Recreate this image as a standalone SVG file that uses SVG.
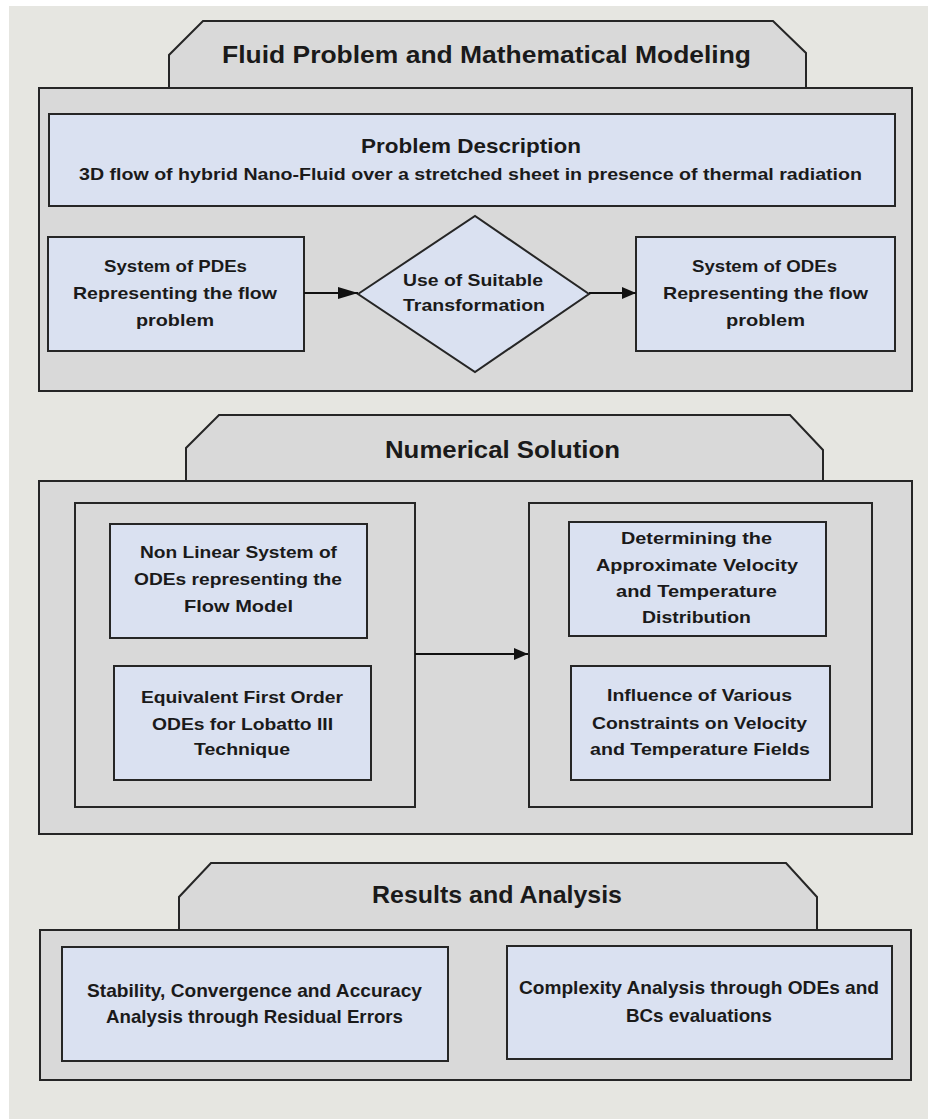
<svg xmlns="http://www.w3.org/2000/svg" width="928" height="1119" viewBox="0 0 928 1119">
<style>
  .bg{fill:#e6e6e1;}
  .panel{fill:#d9d9d9;stroke:#262626;stroke-width:2;}
  .node{fill:#dae1f1;stroke:#262626;stroke-width:2;}
  .t{font-family:"Liberation Sans",Arial,sans-serif;font-weight:bold;fill:#1a1a1a;text-anchor:middle;}
  .h1{font-size:24px;}
  .h2{font-size:21px;}
  .n{font-size:17px;}
  .n3{font-size:19px;}
  .conn{stroke:#111;stroke-width:2;fill:none;}
</style>
<defs>
  <marker id="ahL" markerUnits="userSpaceOnUse" markerWidth="20" markerHeight="12" refX="20" refY="6" orient="auto">
    <path d="M0,0 L20,6 L0,12 z" fill="#111"/>
  </marker>
  <marker id="ah" markerUnits="userSpaceOnUse" markerWidth="14" markerHeight="12" refX="14" refY="6" orient="auto">
    <path d="M0,0 L14,6 L0,12 z" fill="#111"/>
  </marker>
</defs>

<rect class="bg" x="9" y="6" width="919" height="1113"/>

<!-- Section 1 -->
<g id="section1">
  <path class="panel" d="M169,88 L169,55 L203,21 L773,21 L806,53 L806,88"/>
  <text class="t h1" x="486.5" y="63" textLength="529" lengthAdjust="spacingAndGlyphs">Fluid Problem and Mathematical Modeling</text>
  <rect class="panel" x="39" y="88" width="873" height="303"/>
</g>
<g id="problem-description">
  <rect class="node" x="49" y="114" width="846" height="92"/>
  <text class="t h2" x="471" y="153" textLength="220" lengthAdjust="spacingAndGlyphs">Problem Description</text>
  <text class="t n" x="470.5" y="180" textLength="783" lengthAdjust="spacingAndGlyphs">3D flow of hybrid Nano-Fluid over a stretched sheet in presence of thermal radiation</text>
</g>
<g id="pdes">
  <rect class="node" x="48" y="237" width="256" height="114"/>
  <text class="t n" x="175.5" y="272" textLength="143" lengthAdjust="spacingAndGlyphs">System of PDEs</text>
  <text class="t n" x="175" y="299" textLength="204" lengthAdjust="spacingAndGlyphs">Representing the flow</text>
  <text class="t n" x="175" y="326" textLength="78" lengthAdjust="spacingAndGlyphs">problem</text>
</g>
<g id="transformation">
  <path class="node" d="M358,294 L475,216 L589,294 L475,372 Z"/>
  <text class="t n" x="473" y="286" textLength="140" lengthAdjust="spacingAndGlyphs">Use of Suitable</text>
  <text class="t n" x="474" y="311" textLength="142" lengthAdjust="spacingAndGlyphs">Transformation</text>
</g>
<g id="odes">
  <rect class="node" x="636" y="237" width="259" height="114"/>
  <text class="t n" x="764.5" y="272" textLength="145" lengthAdjust="spacingAndGlyphs">System of ODEs</text>
  <text class="t n" x="765.5" y="299" textLength="205" lengthAdjust="spacingAndGlyphs">Representing the flow</text>
  <text class="t n" x="765.5" y="326" textLength="79" lengthAdjust="spacingAndGlyphs">problem</text>
</g>

<!-- Section 2 -->
<g id="section2">
  <path class="panel" d="M186,481 L186,448 L219,415 L790,415 L823,450 L823,481"/>
  <text class="t h1" x="502.5" y="458" textLength="235" lengthAdjust="spacingAndGlyphs">Numerical Solution</text>
  <rect class="panel" x="39" y="481" width="873" height="353"/>
  <rect class="panel" x="75" y="503" width="340" height="304"/>
  <rect class="panel" x="529" y="503" width="343" height="304"/>
</g>
<g id="nonlinear">
  <rect class="node" x="110" y="524" width="257" height="114"/>
  <text class="t n" x="238.5" y="558" textLength="197" lengthAdjust="spacingAndGlyphs">Non Linear System of</text>
  <text class="t n" x="238" y="585" textLength="208" lengthAdjust="spacingAndGlyphs">ODEs representing the</text>
  <text class="t n" x="238.5" y="612" textLength="109" lengthAdjust="spacingAndGlyphs">Flow Model</text>
</g>
<g id="first-order">
  <rect class="node" x="114" y="666" width="257" height="114"/>
  <text class="t n" x="242" y="703" textLength="202" lengthAdjust="spacingAndGlyphs">Equivalent First Order</text>
  <text class="t n" x="242.5" y="730" textLength="181" lengthAdjust="spacingAndGlyphs">ODEs for Lobatto III</text>
  <text class="t n" x="242" y="755" textLength="96" lengthAdjust="spacingAndGlyphs">Technique</text>
</g>
<g id="determining">
  <rect class="node" x="569" y="522" width="257" height="114"/>
  <text class="t n" x="696.5" y="544" textLength="151" lengthAdjust="spacingAndGlyphs">Determining the</text>
  <text class="t n" x="697" y="571" textLength="202" lengthAdjust="spacingAndGlyphs">Approximate Velocity</text>
  <text class="t n" x="696.5" y="597" textLength="161" lengthAdjust="spacingAndGlyphs">and Temperature</text>
  <text class="t n" x="696.5" y="623" textLength="109" lengthAdjust="spacingAndGlyphs">Distribution</text>
</g>
<g id="influence">
  <rect class="node" x="571" y="666" width="259" height="114"/>
  <text class="t n" x="699.5" y="701" textLength="185" lengthAdjust="spacingAndGlyphs">Influence of Various</text>
  <text class="t n" x="699.5" y="729" textLength="215" lengthAdjust="spacingAndGlyphs">Constraints on Velocity</text>
  <text class="t n" x="700" y="755" textLength="220" lengthAdjust="spacingAndGlyphs">and Temperature Fields</text>
</g>

<!-- Section 3 -->
<g id="section3">
  <path class="panel" d="M179,929 L179,897 L211,863 L786,863 L817,897 L817,929"/>
  <text class="t h1" x="497" y="903" textLength="250" lengthAdjust="spacingAndGlyphs">Results and Analysis</text>
  <rect class="panel" x="40" y="930" width="871" height="150"/>
</g>
<g id="stability">
  <rect class="node" x="62" y="947" width="386" height="114"/>
  <text class="t n3" x="254.5" y="997" textLength="335" lengthAdjust="spacingAndGlyphs">Stability, Convergence and Accuracy</text>
  <text class="t n3" x="254.5" y="1023" textLength="297" lengthAdjust="spacingAndGlyphs">Analysis through Residual Errors</text>
</g>
<g id="complexity">
  <rect class="node" x="507" y="946" width="385" height="113"/>
  <text class="t n3" x="699" y="994" textLength="360" lengthAdjust="spacingAndGlyphs">Complexity Analysis through ODEs and</text>
  <text class="t n3" x="699" y="1022" textLength="146" lengthAdjust="spacingAndGlyphs">BCs evaluations</text>
</g>

<g id="connectors">
  <line class="conn" x1="304" y1="293" x2="358" y2="293" marker-end="url(#ahL)"/>
  <line class="conn" x1="589" y1="293" x2="636" y2="293" marker-end="url(#ah)"/>
  <line class="conn" x1="415" y1="654" x2="528" y2="654" marker-end="url(#ah)"/>
</g>
</svg>
